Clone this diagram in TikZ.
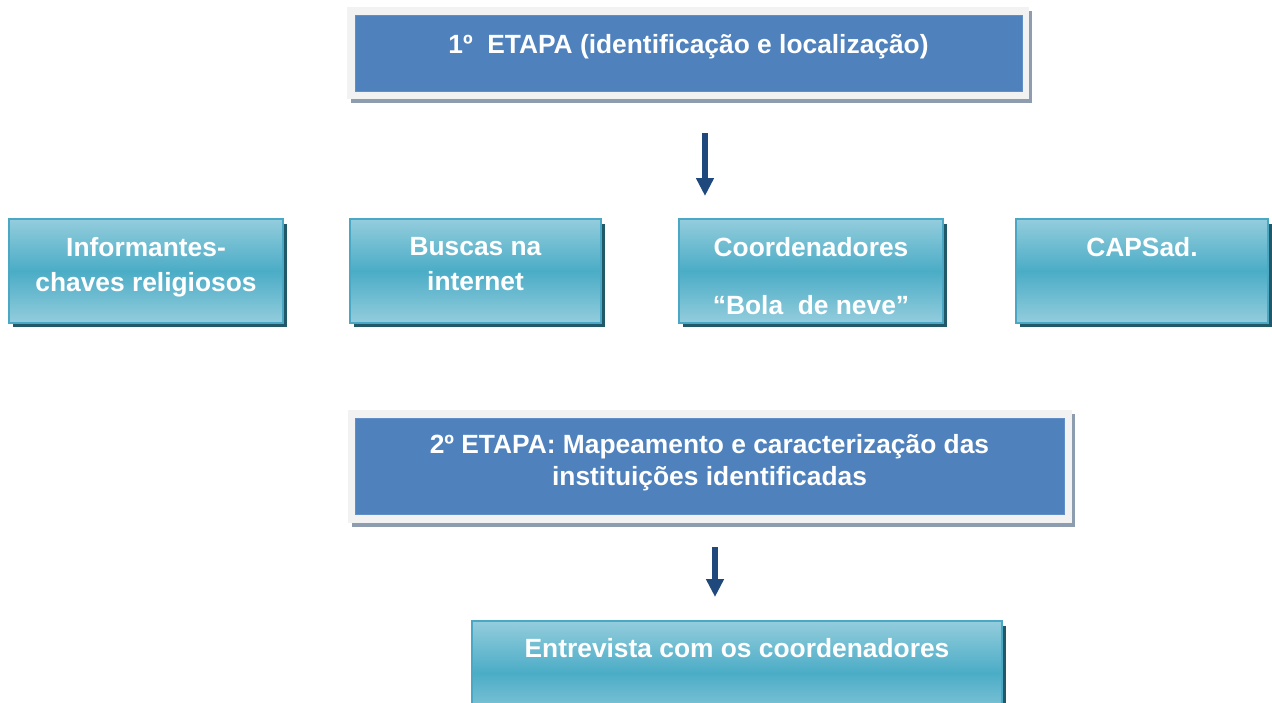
\documentclass[tikz,border=0pt]{standalone}
\usepackage{fontspec}
\setmainfont{Liberation Sans}
\usepackage{tikz}
\usetikzlibrary{shadows}
\usetikzlibrary{positioning}
\usetikzlibrary{arrows.meta}
\usepackage{xcolor}
\definecolor{etapablue}{RGB}{79, 129, 189}
\definecolor{framegray}{RGB}{242, 242, 242}
\definecolor{framesh}{RGB}{142, 156, 176}
\definecolor{tealtop}{RGB}{147, 205, 221}
\definecolor{tealmid}{RGB}{75, 172, 198}
\definecolor{tealedge}{RGB}{75, 168, 196}
\definecolor{tealsh}{RGB}{33, 89, 104}
\definecolor{arrowblue}{RGB}{31, 73, 125}

\begin{document}
\begin{tikzpicture}[x=0.02cm,y=-0.02cm,
  frame/.style={rectangle,fill=framegray,inner sep=0,
    drop shadow={shadow xshift=.07cm,shadow yshift=-.08cm,fill=framesh,opacity=1}},
  etapa/.style={rectangle,fill=etapablue,draw=etapablue!90!white,inner sep=0},
  teal/.style={rectangle,draw=tealedge,line width=.04cm,inner sep=0,
    top color=tealtop,bottom color=tealtop,middle color=tealmid,
    drop shadow={shadow xshift=.08cm,shadow yshift=-.09cm,fill=tealsh,opacity=1}},
  lbl/.style={anchor=north,inner sep=0,align=center,text=white,
    font=\fontsize{15}{19.8}\selectfont\bfseries},
  seta/.style={draw=arrowblue,line width=.12cm,
    -{Triangle[width=.34cm,length=.36cm,fill=arrowblue]}}]
\clip (0,0) rectangle (1272,703);

% 1a etapa
\node[frame,minimum width=13.64cm,minimum height=1.84cm] (f1) at (688,53) {};
\node[etapa,minimum width=13.34cm,minimum height=1.52cm] (e1) at (688.5,53) {};
\node[lbl,below=.38cm of e1.north] (t1) {1º\ \ ETAPA (identificação e localização)};

\coordinate (a1s) at (705,133);
\coordinate (a1e) at (705,196);
\draw[seta] (a1s)--(a1e);

% fontes
\node[teal,minimum width=5.48cm,minimum height=2.08cm] (inf) at (146,271) {};
\node[teal,minimum width=5.02cm,minimum height=2.08cm] (bus) at (475.5,271) {};
\node[teal,minimum width=5.28cm,minimum height=2.08cm] (coo) at (811,271) {};
\node[teal,minimum width=5.04cm,minimum height=2.08cm] (caps) at (1142,271) {};

\node[lbl,below=.39cm of inf.north] (tinf) {Informantes-\\chaves religiosos};
\node[lbl,below=.39cm of bus.north] (tbus) {Buscas na\\internet};
\node[lbl,below=.39cm of coo.north] (tcoo) {Coordenadores\\[.46cm]“Bola\ \ de neve”};
\node[lbl,below=.39cm of caps.north] (tcaps) {CAPSad.};

% 2a etapa
\node[frame,minimum width=14.48cm,minimum height=2.26cm] (f2) at (710,466.5) {};
\node[etapa,minimum width=14.18cm,minimum height=1.92cm] (e2) at (709.5,466) {};
\node[lbl,below=.33cm of e2.north,font=\fontsize{15}{18.2}\selectfont\bfseries] (t2)
  {2º ETAPA: Mapeamento e caracterização das\\instituições identificadas};

\coordinate (a2s) at (715,547);
\coordinate (a2e) at (715,597);
\draw[seta] (a2s)--(a2e);

\node[teal,minimum width=10.6cm,minimum height=2.08cm] (ent) at (737,673) {};
\node[lbl,below=.37cm of ent.north] (tent) {Entrevista com os coordenadores};

\end{tikzpicture}
\end{document}
